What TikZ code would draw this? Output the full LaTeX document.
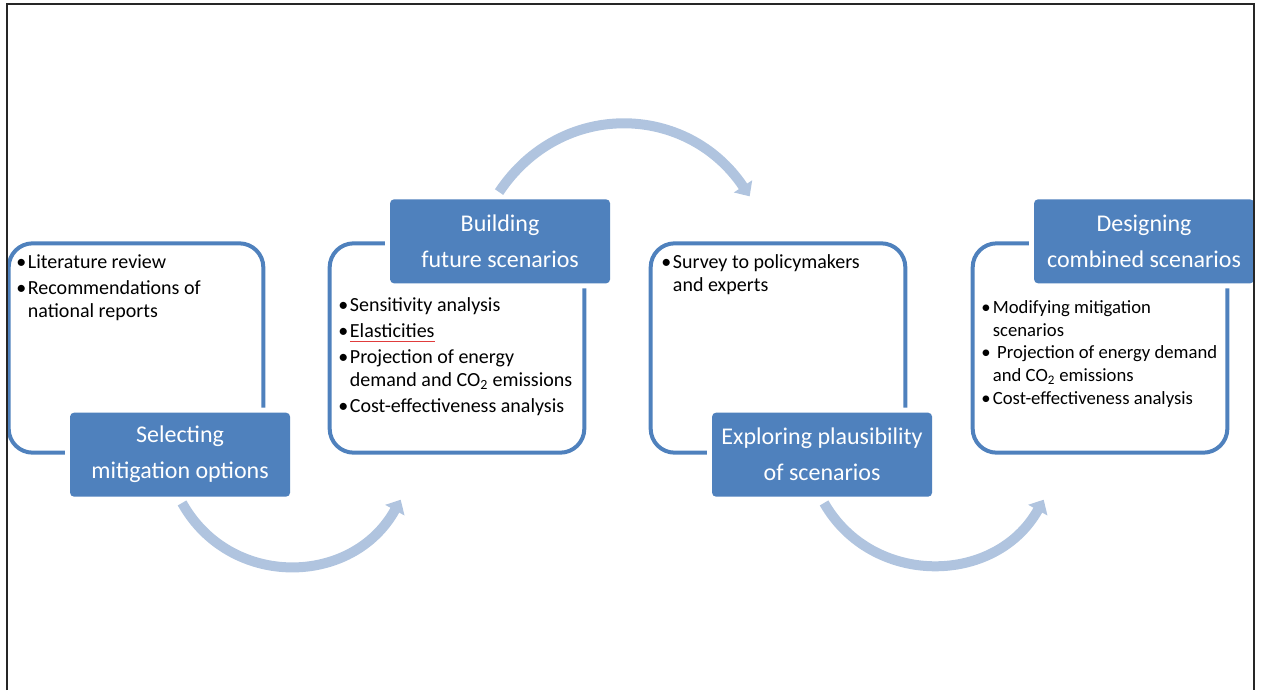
\documentclass[tikz,border=0pt]{standalone}
\usepackage{fontspec}
\setmainfont{Carlito}
\usetikzlibrary{arrows.meta, positioning, calc}
\definecolor{mBlue}{HTML}{4F81BD}
\definecolor{mPale}{HTML}{B0C4DF}
\definecolor{mRed}{HTML}{E03C3C}

% thin red underline under a word
\newcommand\spellmark[1]{\setbox0\hbox{#1}\rlap{\textcolor{mRed}{\rule[-3pt]{\wd0}{0.7pt}}}\box0}
\newcommand\itm{\makebox[7.5pt][l]{\hspace*{-1.2pt}•}}
\newcommand\cont{\hspace*{7.5pt}}

\tikzset{
  outline/.style={draw=mBlue, line width=3pt, rounded corners=18pt,
    minimum width=191pt, minimum height=157pt},
  stage/.style={fill=mBlue, rounded corners=3pt, text=white, align=center,
    minimum width=165pt, minimum height=63pt, inner sep=0pt,
    font=\fontsize{18}{27}\selectfont,
    preaction={draw=white, line width=7.5pt}},
  items/.style={align=left, inner sep=0pt, font=\fontsize{15}{17.5}\selectfont},
  flow/.style={draw=mPale, line width=7.5pt, -{Triangle[length=9pt, width=16pt]}},
}

\begin{document}
\begin{tikzpicture}[x=0.75pt, y=-0.75pt]
    \useasboundingbox (0,0) rectangle (1263,690);

    % the four stages
    \node[outline] (box1) at (136,348) {};
    \node[outline] (box2) at (457,348) {};
    \node[outline] (box3) at (778,348) {};
    \node[outline] (box4) at (1100,348) {};

    \node[stage, anchor=east] (sel) at ([shift={(25,0)}]box1.south east) {Selecting\\mitigation options};
    \node[stage, anchor=east] (bld) at ([shift={(24,0)}]box2.north east) {Building\\future scenarios};
    \node[stage, anchor=east] (plb) at ([shift={(25,0)}]box3.south east) {Exploring plausibility\\of scenarios};
    \node[stage, anchor=east] (dsg) at ([shift={(25,0)}]box4.north east) {Designing\\combined scenarios};

    % bullet lists
    \node[items, anchor=north west] (lst1) at ([shift={(11,13)}]box1.north west)
      {\itm Literature review\\[2pt]
       \itm Recommendations of\\
       \cont national reports};
    \node[items, anchor=north west] (lst2) at ([shift={(12,56)}]box2.north west)
      {\itm Sensitivity analysis\\[2pt]
       \itm \spellmark{Elasticities}\\[2pt]
       \itm Projection of energy\\
       \cont demand and CO\textsubscript{2} emissions\\[2pt]
       \itm Cost-effectiveness analysis};
    \node[items, anchor=north west] (lst3) at ([shift={(14,13)}]box3.north west)
      {\itm Survey to policymakers\\
       \cont and experts};
    \node[items, anchor=north west, font=\fontsize{14}{17}\selectfont] (lst4) at ([shift={(12,59)}]box4.north west)
      {\itm Modifying mitigation\\
       \cont scenarios\\
       \itm\ Projection of energy demand\\
       \cont and CO\textsubscript{2} emissions\\
       \itm Cost-effectiveness analysis};

    % arrow end points
    \coordinate (t1) at ([shift={(73,45)}]box2.south west);
    \coordinate (t2) at ([shift={(101,-45)}]box3.north west);
    \coordinate (t3) at ([shift={(73,45)}]box4.south west);

    \draw[flow] ([shift={(2,6)}]sel.south) .. controls +(48,86) and +(-48,87) .. (t1);
    \draw[flow] ([shift={(-1,-7)}]bld.north) .. controls +(62,-93) and +(-62,-93) .. (t2);
    \draw[flow] ([shift={(2,6)}]plb.south) .. controls +(48,84) and +(-48,86) .. (t3);

    % page frame
    \draw[line width=1.1pt, black!85] (7,690) -- (7,4) -- (1254,4) -- (1254,690);
  \end{tikzpicture}
\end{document}
